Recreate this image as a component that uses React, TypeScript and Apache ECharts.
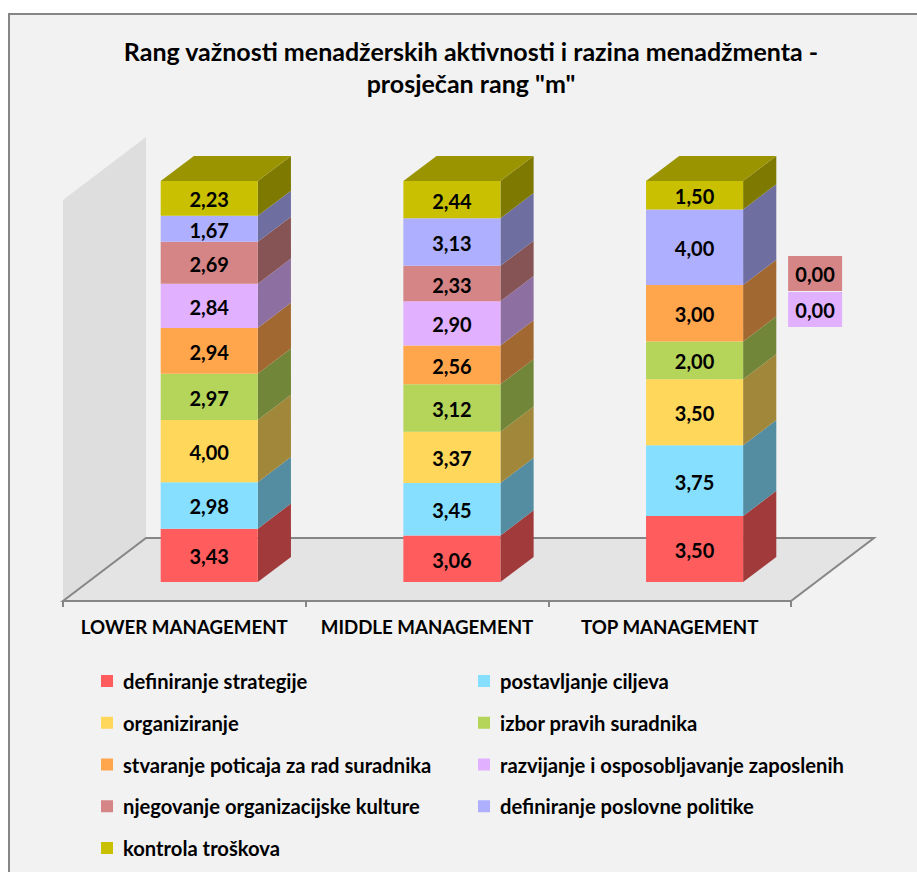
import React, { useEffect, useRef } from "react";
import * as echarts from "echarts";

const categories = ["LOWER MANAGEMENT", "MIDDLE MANAGEMENT", "TOP MANAGEMENT"];
const titleText = 'Rang važnosti menadžerskih aktivnosti i razina menadžmenta -\nprosječan rang "m"';

const seriesNames = [
  "definiranje strategije",
  "postavljanje ciljeva",
  "organiziranje",
  "izbor pravih suradnika",
  "stvaranje poticaja za rad suradnika",
  "razvijanje i osposobljavanje zaposlenih",
  "njegovanje organizacijske kulture",
  "definiranje poslovne politike",
  "kontrola troškova",
];
const definiranjeStrategije = [3.43, 3.06, 3.5];
const postavljanjeCiljeva = [2.98, 3.45, 3.75];
const organiziranje = [4.0, 3.37, 3.5];
const izborPravihSuradnika = [2.97, 3.12, 2.0];
const stvaranjePoticaja = [2.94, 2.56, 3.0];
const razvijanjeZaposlenih = [2.84, 2.9, 0.0];
const njegovanjeKulture = [2.69, 2.33, 0.0];
const definiranjePolitike = [1.67, 3.13, 4.0];
const kontrolaTroskova = [2.23, 2.44, 1.5];

const seriesValues = [
  definiranjeStrategije,
  postavljanjeCiljeva,
  organiziranje,
  izborPravihSuradnika,
  stvaranjePoticaja,
  razvijanjeZaposlenih,
  njegovanjeKulture,
  definiranjePolitike,
  kontrolaTroskova,
];
const colors = ["#FF5D5D", "#86DFFF", "#FFD75A", "#B5D45A", "#FFA64D", "#E1B0FF", "#D58585", "#AFAFFF", "#C8C000"];

const FONT = "Lato, 'Open Sans', sans-serif";
const BACK_DX = 83;
const BACK_DY = 63;
const FRONT_DEPTH = 0.3;
const BAR_DEPTH = 0.4;
const ZERO_LABEL_DY: Record<number, number> = { 5: 7, 6: -29 };

function shade(hex: string, k: number) {
  const n = parseInt(hex.slice(1), 16);
  const c = [(n >> 16) & 255, (n >> 8) & 255, n & 255].map((v) => Math.round(v * k));
  return `rgb(${c[0]},${c[1]},${c[2]})`;
}

const totals = categories.map((_, i) => seriesValues.reduce((s, arr) => s + arr[i], 0));

function stackedData(si: number) {
  return categories.map((_, i) => {
    let below = 0;
    for (let k = 0; k < si; k++) below += seriesValues[k][i];
    const v = seriesValues[si][i];
    return [i, (below / totals[i]) * 100, ((below + v) / totals[i]) * 100, v];
  });
}

const renderBar = (si: number) => (_params: any, api: any) => {
  const i = api.value(0);
  const p0 = api.coord([i, api.value(1)]);
  const p1 = api.coord([i, api.value(2)]);
  const value = api.value(3);
  const band = api.size([1, 0])[0];
  const w = band * 0.4;
  const fx = BACK_DX * FRONT_DEPTH;
  const fy = BACK_DY * FRONT_DEPTH;
  const dx = BACK_DX * BAR_DEPTH;
  const dy = BACK_DY * BAR_DEPTH;
  const x0 = p0[0] + fx - w / 2;
  const x1 = x0 + w;
  const yb = p0[1] - fy;
  const yt = p1[1] - fy;
  const color = colors[si];
  const label = value.toFixed(2).replace(".", ",");
  const font = `bold 20px ${FONT}`;
  if (value === 0) {
    const bx = x1 + 45;
    const by = yt + ZERO_LABEL_DY[si];
    return {
      type: "group",
      children: [
        { type: "rect", shape: { x: bx, y: by, width: 54, height: 35 }, style: { fill: color } },
        {
          type: "text",
          style: { x: bx + 27, y: by + 18, text: label, font, fill: "#000", align: "center", verticalAlign: "middle" },
        },
      ],
    };
  }
  const children: any[] = [
    {
      type: "polygon",
      shape: { points: [[x1, yb], [x1 + dx, yb - dy], [x1 + dx, yt - dy], [x1, yt]] },
      style: { fill: shade(color, 0.63) },
    },
    { type: "rect", shape: { x: x0, y: yt, width: w, height: yb - yt }, style: { fill: color } },
    {
      type: "text",
      style: {
        x: (x0 + x1) / 2,
        y: (yt + yb) / 2 + 1,
        text: label,
        font,
        fill: "#000",
        align: "center",
        verticalAlign: "middle",
      },
    },
  ];
  if (si === seriesNames.length - 1) {
    children.push({
      type: "polygon",
      shape: { points: [[x0, yt], [x0 + dx, yt - dy], [x1 + dx, yt - dy], [x1, yt]] },
      style: { fill: shade(color, 0.77) },
    });
  }
  return { type: "group", children };
};

const renderScene = (params: any) => {
  const { x, y, width, height } = params.coordSys;
  const b = y + height;
  return {
    type: "group",
    children: [
      {
        type: "polygon",
        shape: { points: [[x, y], [x + BACK_DX, y - BACK_DY], [x + BACK_DX, b - BACK_DY], [x, b]] },
        style: { fill: "#DEDEDE" },
      },
      {
        type: "polygon",
        shape: {
          points: [[x, b], [x + BACK_DX, b - BACK_DY], [x + width + BACK_DX, b - BACK_DY], [x + width, b]],
        },
        style: { fill: "#E4E4E4", stroke: "#868686", lineWidth: 2 },
      },
    ],
  };
};

export default function App() {
  const ref = useRef<HTMLDivElement>(null);
  useEffect(() => {
    if (!ref.current) return;
    const chart = echarts.init(ref.current, undefined, { renderer: "svg" });
    const legendBase = {
      orient: "vertical" as const,
      padding: 0,
      itemWidth: 12,
      itemHeight: 12,
      itemGap: 19.75,
      selectedMode: false,
      icon: "rect",
      textStyle: { fontFamily: FONT, fontWeight: "bold" as const, fontSize: 20.2, color: "#000", lineHeight: 22, padding: [0, 0, 0, 5] },
    };
    chart.setOption({
      animation: false,
      backgroundColor: "#fff",
      graphic: [
        {
          type: "rect",
          z: -10,
          shape: { x: 9, y: 14, width: 920, height: 870 },
          style: { fill: "#F2F2F2", stroke: "#868686", lineWidth: 2 },
        },
      ],
      title: {
        text: titleText,
        left: 466,
        top: 30,
        textAlign: "center",
        textStyle: { fontFamily: FONT, fontWeight: "bold", fontSize: 25, color: "#000", lineHeight: 32 },
      },
      legend: [
        { ...legendBase, left: 101, top: 670, data: seriesNames.filter((_, i) => i % 2 === 0) },
        { ...legendBase, left: 478, top: 670, data: seriesNames.filter((_, i) => i % 2 === 1) },
      ],
      grid: { left: 63, top: 200, width: 728, height: 401 },
      xAxis: {
        type: "category",
        data: categories,
        axisLine: { show: true, lineStyle: { color: "#868686", width: 2 } },
        axisTick: { show: true, length: 6, lineStyle: { color: "#868686", width: 2 } },
        axisLabel: { interval: 0, margin: 16, fontFamily: FONT, fontWeight: "bold", fontSize: 18.7, color: "#000" },
        z: 10,
      },
      yAxis: { type: "value", min: 0, max: 100, show: false },
      series: [
        {
          type: "custom",
          name: "scene",
          silent: true,
          z: 0,
          data: [[0]],
          coordinateSystem: "cartesian2d",
          encode: { x: 0 },
          renderItem: renderScene,
        },
        ...seriesNames.map((name, si) => ({
          type: "custom",
          name,
          z: 5,
          coordinateSystem: "cartesian2d",
          itemStyle: { color: colors[si] },
          encode: { x: 0, y: [1, 2] },
          data: stackedData(si),
          renderItem: renderBar(si),
        })),
      ],
    });
    return () => chart.dispose();
  }, []);
  return <div ref={ref} style={{ position: "absolute", left: 0, top: 0, width: 917, height: 872 }} />;
}
